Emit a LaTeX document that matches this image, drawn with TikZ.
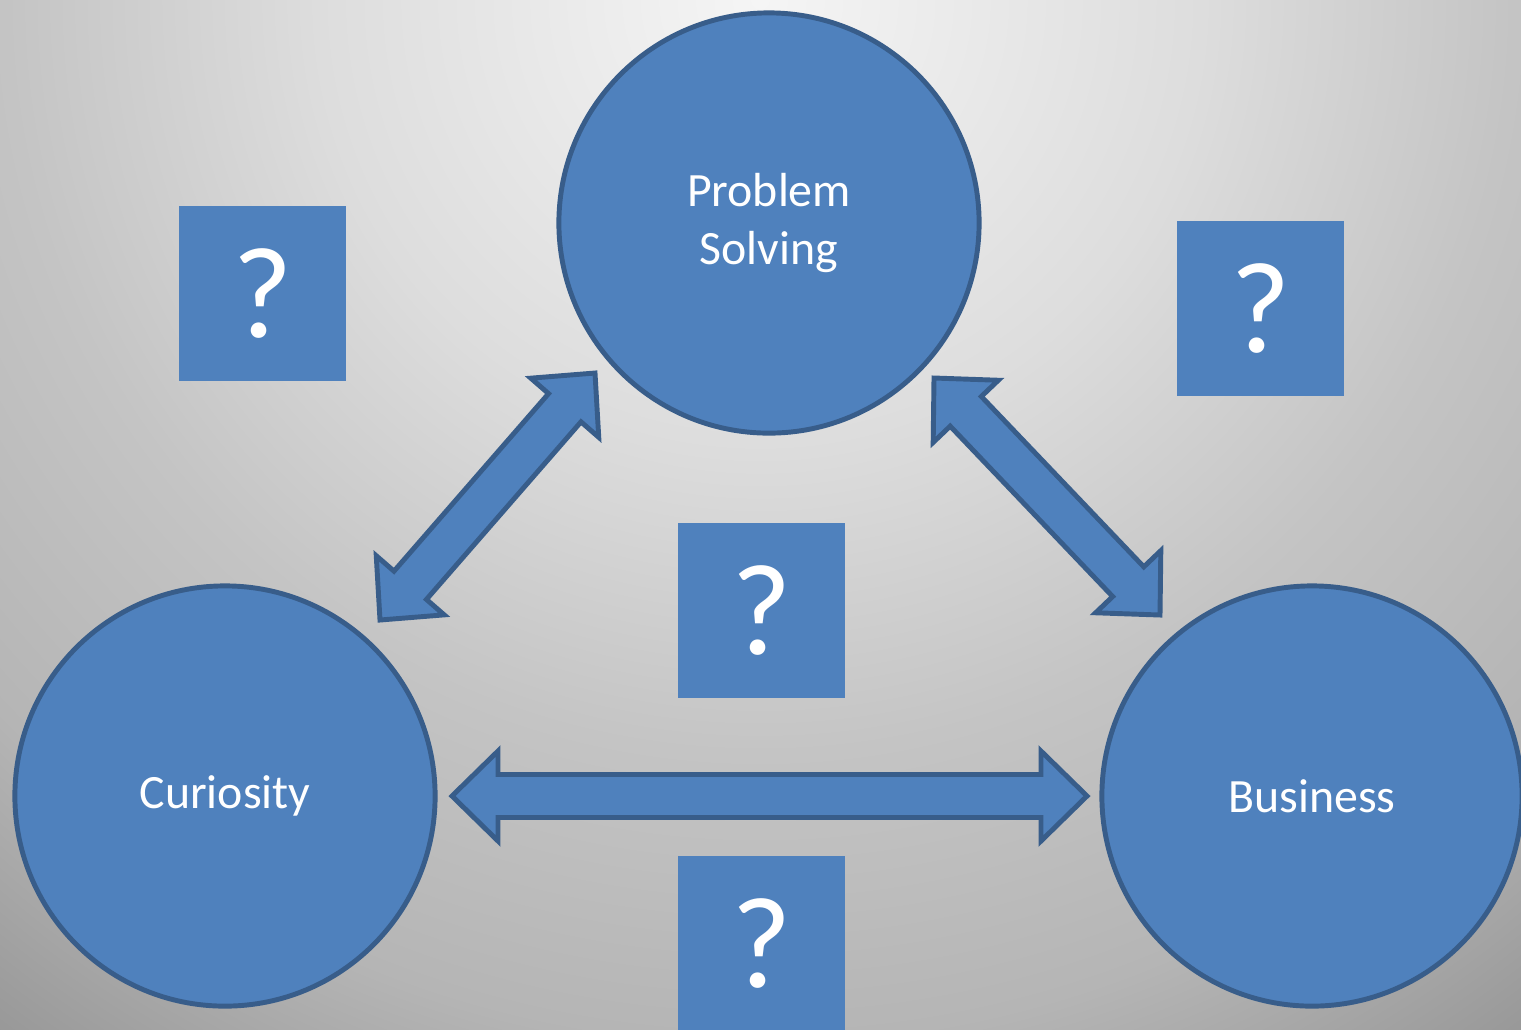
\documentclass[tikz,border=0pt]{standalone}
\usepackage{fontspec}
\setmainfont{Carlito}
\usetikzlibrary{calc}

\definecolor{slideblue}{HTML}{4F81BD}
\definecolor{slideedge}{HTML}{385D8A}
\definecolor{bgA}{HTML}{F5F5F5}
\definecolor{bgB}{HTML}{DDDDDD}
\definecolor{bgC}{HTML}{C4C4C4}
\definecolor{bgD}{HTML}{B5B5B5}
\definecolor{bgE}{HTML}{969696}

\pgfdeclareradialshading{bgglow}{\pgfpoint{0bp}{0bp}}{color(0bp)=(bgA); color(8.5bp)=(bgB); color(14.5bp)=(bgC); color(20bp)=(bgD); color(25bp)=(bgE); color(50bp)=(bgE)}

% block arrow with a head at both ends
\newcommand{\linkarrow}[2]{%
  \draw[link_arrow] (#1)
    -- ($(#1)!0.46cm!(#2)!0.45cm!90:(#2)$)
    -- ($(#1)!0.46cm!(#2)!0.215cm!90:(#2)$)
    -- ($(#2)!0.46cm!(#1)!0.215cm!-90:(#1)$)
    -- ($(#2)!0.46cm!(#1)!0.45cm!-90:(#1)$)
    -- (#2)
    -- ($(#2)!0.46cm!(#1)!0.45cm!90:(#1)$)
    -- ($(#2)!0.46cm!(#1)!0.215cm!90:(#1)$)
    -- ($(#1)!0.46cm!(#2)!0.215cm!-90:(#2)$)
    -- ($(#1)!0.46cm!(#2)!0.45cm!-90:(#2)$)
    -- cycle;}

\begin{document}
\begin{tikzpicture}[x=0.01cm, y=-0.01cm,
                    topic_node/.style={circle, draw=slideedge, fill=slideblue, line width=1.4pt,
                                       inner sep=0pt, outer sep=0pt, minimum size=4.2cm,
                                       text=white, align=center, font=\fontsize{13.6}{16.4}\selectfont},
                    mark_box/.style={rectangle, fill=slideblue, inner sep=0pt,
                                     minimum width=1.67cm, minimum height=1.75cm,
                                     text=white, font=\fontsize{37}{40}\selectfont},
                    link_arrow/.style={draw=slideedge, fill=slideblue, line width=1.4pt}
                ]
    \useasboundingbox (0,0) rectangle (1521,1029);
    \clip (0,0) rectangle (1521,1029);
    \shade[shading=bgglow] (760,0) circle (1300);

    \node[topic_node] (ps) at (769,223) {Problem\\Solving};
    \node[topic_node] (cur) at (225,796) {Curiosity};
    \node[topic_node] (bus) at (1312,796) {Business};

    \node[mark_box] (mark_nw) at (262.5,293.5) {?};
    \node[mark_box] (mark_ne) at (1260.5,308.5) {?};
    \node[mark_box] (mark_mid) at (761.5,610.5) {?};
    \node[mark_box] (mark_low) at (761.5,943.5) {?};

    \coordinate (cur_ps) at (380,620);
    \coordinate (ps_cur) at (595,373);
    \coordinate (ps_bus) at (934,378);
    \coordinate (bus_ps) at (1160,615);
    \coordinate (cur_bus) at (452,796);
    \coordinate (bus_cur) at (1087,796);

    \linkarrow{cur_ps}{ps_cur}
    \linkarrow{ps_bus}{bus_ps}
    \linkarrow{cur_bus}{bus_cur}
\end{tikzpicture}
\end{document}
